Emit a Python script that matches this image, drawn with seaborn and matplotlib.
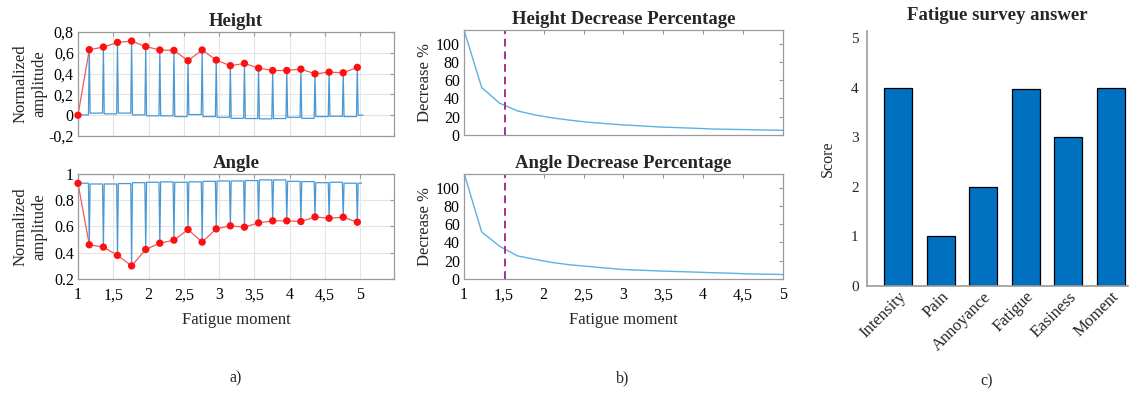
import matplotlib

matplotlib.use("Agg")

import matplotlib.pyplot as plt
import seaborn as sns

# fatigue moments of each repetition (red markers)
rep_x = [1.0, 1.16, 1.36, 1.56, 1.76, 1.96, 2.16, 2.36, 2.56, 2.76, 2.96,
         3.16, 3.36, 3.56, 3.76, 3.96, 4.16, 4.36, 4.56, 4.76, 4.96]
height_peaks = [0.0, 0.63, 0.655, 0.70, 0.713, 0.66, 0.627, 0.623, 0.524, 0.627, 0.53,
                0.476, 0.498, 0.453, 0.43, 0.43, 0.443, 0.398, 0.414, 0.408, 0.46]
angle_peaks = [0.929, 0.461, 0.443, 0.38, 0.30, 0.425, 0.473, 0.496, 0.577, 0.481, 0.582,
               0.605, 0.595, 0.628, 0.643, 0.643, 0.638, 0.673, 0.663, 0.671, 0.633]
# resting level of the raw signal between repetitions
height_base = [0.003, 0.02, 0.013, 0.02, 0.003, -0.006, -0.006, -0.013, 0.006, -0.013, -0.02,
               -0.03, -0.032, -0.035, -0.032, -0.02, -0.03, -0.013, -0.01, -0.013, 0.0]
angle_base = [0.93, 0.924, 0.924, 0.927, 0.934, 0.937, 0.94, 0.937, 0.94, 0.944, 0.947,
              0.947, 0.95, 0.955, 0.955, 0.944, 0.942, 0.934, 0.937, 0.93, 0.93]

# decrease percentage curves
dec_x = [1.0, 1.222, 1.444, 1.667, 1.889, 2.111, 2.333, 2.556, 2.778, 3.0,
         3.222, 3.444, 3.667, 3.889, 4.111, 4.333, 4.556, 4.778, 5.0]
height_dec = [115, 52, 35, 26.5, 22, 18.7, 16.2, 14, 12.5, 11,
              10, 8.8, 8.1, 7.4, 6.6, 6.2, 5.9, 5.5, 5.1]
angle_dec = [116, 51.5, 36, 25.4, 21.5, 18, 15.5, 13.8, 12, 10.4,
             9.6, 8.8, 8.2, 7.6, 6.9, 6.4, 5.6, 5.3, 4.9]
threshold_x = 1.52

# survey
survey_items = ["Intensity", "Pain", "Annoyance", "Fatigue", "Easiness", "Moment"]
survey_scores = [4, 1, 2, 3.97, 3, 4]

x_ticks = [1, 1.5, 2, 2.5, 3, 3.5, 4, 4.5, 5]
x_tick_labels = ["1", "1,5", "2", "2,5", "3", "3,5", "4", "4,5", "5"]
height_ticks = [-0.2, 0, 0.2, 0.4, 0.6, 0.8]
height_tick_labels = ["-0,2", "0", "0,2", "0,4", "0,6", "0,8"]
angle_ticks = [0.2, 0.4, 0.6, 0.8, 1.0]
angle_tick_labels = ["0.2", "0.4", "0.6", "0.8", "1"]
dec_ticks = [0, 20, 40, 60, 80, 100]

SIGNAL = "#4a98d4"
DEC_LINE = "#5cb3df"
RED = "#ff1010"
RED_LINE = "#f05a5a"
DASH = "#a8308f"
SPINE = "#9a9a9a"
BAR = "#0070c0"

sns.set_theme(style="white")
plt.rcParams["font.family"] = ["Liberation Serif", "DejaVu Serif"]

W, H = 1129, 394


def box(left, top, right, bottom):
    return [left / W, 1 - bottom / H, (right - left) / W, (bottom - top) / H]


def pulse_trace(peaks_x, peaks_y, bases, start, end, half=0.012):
    xs, ys = [start], [bases[0]]
    for k in range(1, len(peaks_x)):
        xs += [peaks_x[k] - half, peaks_x[k], peaks_x[k] + half]
        ys += [bases[k - 1], peaks_y[k], bases[k]]
    xs.append(end)
    ys.append(bases[-1])
    return xs, ys


def style_box(ax, grid):
    for sp in ax.spines.values():
        sp.set_visible(True)
        sp.set_color(SPINE)
        sp.set_linewidth(0.9)
    ax.tick_params(direction="in", top=True, right=True, length=3, width=0.8,
                   color=SPINE, labelsize=11.5, labelcolor="black")
    ax.tick_params(axis="x", pad=6)
    ax.tick_params(axis="y", pad=3)
    if grid:
        ax.grid(True, color="#e4e4e4", lw=0.8)
        ax.set_axisbelow(True)


fig = plt.figure(figsize=(W / 100, H / 100), dpi=100)

# a) raw signals
panels = [
    ("Height", box(78, 32, 394, 136), height_peaks, height_base, 1.02, 5.04,
     (-0.2, 0.8), height_ticks, height_tick_labels, False),
    ("Angle", box(78, 174, 394, 279), angle_peaks, angle_base, 1.0, 5.02,
     (0.2, 1.0), angle_ticks, angle_tick_labels, True),
]
for title, pos, peaks, base, start, end, ylim, yt, ytl, show_x in panels:
    ax = fig.add_axes(pos)
    sx, sy = pulse_trace(rep_x, peaks, base, start, end)
    sns.lineplot(x=sx, y=sy, ax=ax, color=SIGNAL, lw=0.9, sort=False, estimator=None)
    sns.lineplot(x=rep_x, y=peaks, ax=ax, color=RED_LINE, lw=0.9, sort=False, estimator=None)
    sns.scatterplot(x=rep_x, y=peaks, ax=ax, color=RED, s=28, edgecolor="none", zorder=5,
                    clip_on=False)
    ax.set_xlim(1, 5.48)
    ax.set_ylim(*ylim)
    ax.set_yticks(yt, ytl)
    ax.set_xticks(x_ticks, x_tick_labels if show_x else [])
    style_box(ax, grid=True)
    ax.set_title(title, fontsize=13.5, fontweight="bold", pad=4)
    ax.set_ylabel("Normalized\namplitude", fontsize=12, linespacing=1.25)
    ax.yaxis.set_label_coords(-0.098, 0.5)
    if show_x:
        ax.set_xlabel("Fatigue moment", fontsize=12, labelpad=6)

# b) decrease percentages
panels = [
    ("Height Decrease Percentage", box(464, 30, 783, 135), height_dec, False),
    ("Angle Decrease Percentage", box(464, 174, 783, 279), angle_dec, True),
]
for title, pos, values, show_x in panels:
    ax = fig.add_axes(pos)
    sns.lineplot(x=dec_x, y=values, ax=ax, color=DEC_LINE, lw=1.0, estimator=None)
    ax.axvline(threshold_x, color=DASH, lw=1.4, ls=(0, (4, 2.5)))
    ax.set_xlim(1, 5)
    ax.set_ylim(0, 115)
    ax.set_yticks(dec_ticks)
    ax.set_xticks(x_ticks, x_tick_labels if show_x else [])
    style_box(ax, grid=False)
    ax.set_title(title, fontsize=13.5, fontweight="bold", pad=4)
    ax.set_ylabel("Decrease %", fontsize=12)
    ax.yaxis.set_label_coords(-0.098, 0.5)
    if show_x:
        ax.set_xlabel("Fatigue moment", fontsize=12, labelpad=6)

# c) survey
ax = fig.add_axes(box(867, 31, 1128, 286))
sns.barplot(x=survey_items, y=survey_scores, ax=ax, color=BAR, saturation=1,
            edgecolor="black", linewidth=0.9, width=0.66)
ax.set_xlim(-0.73, 5.41)
ax.set_ylim(0, 5.15)
ax.set_yticks([0, 1, 2, 3, 4, 5])
for side in ("top", "right"):
    ax.spines[side].set_visible(False)
for side in ("left", "bottom"):
    ax.spines[side].set_color(SPINE)
    ax.spines[side].set_linewidth(1.2)
ax.tick_params(axis="y", direction="in", length=7, width=1.0, color=SPINE,
               labelsize=11, pad=6)
ax.tick_params(axis="x", length=0, labelsize=12, pad=2)
plt.setp(ax.get_xticklabels(), rotation=45, ha="right", rotation_mode="anchor")
ax.set_title("Fatigue survey answer", fontsize=13.5, fontweight="bold", pad=8)
ax.set_ylabel("Score", fontsize=11.5)
ax.yaxis.set_label_coords(-0.118, 0.5)

for label, x, y in [("a)", 236, 378), ("b)", 623, 378), ("c)", 987, 381)]:
    fig.text(x / W, 1 - y / H, label, fontsize=11.5, ha="center", va="center")

fig.savefig("out.png", dpi=100, facecolor="white")
